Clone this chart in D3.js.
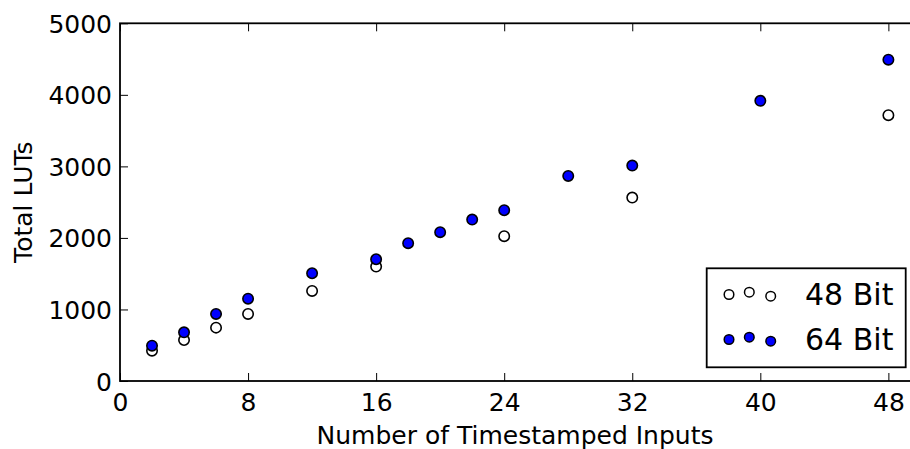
<!DOCTYPE html>
<html><head><meta charset="utf-8">
<script src="https://cdn.jsdelivr.net/npm/d3@7/dist/d3.min.js"></script>
<style>body{margin:0;background:#fff}svg{display:block;font-family:"DejaVu Sans",sans-serif}</style>
</head><body>
<svg id="c" width="910" height="449"></svg>
<script>
const x48 = [2, 4, 6, 8, 12, 16, 24, 32, 48];
const y48 = [424, 573, 746, 937, 1259, 1599, 2024, 2564, 3716];
const x64 = [2, 4, 6, 8, 12, 16, 18, 20, 22, 24, 28, 32, 40, 48];
const y64 = [494, 681, 937, 1151, 1506, 1702, 1926, 2080, 2256, 2387, 2867, 3011, 3916, 4492];
const xTicks = [0, 8, 16, 24, 32, 40, 48];
const yTicks = [0, 1000, 2000, 3000, 4000, 5000];
const legendLabels = ["48 Bit", "64 Bit"];

const svg = d3.select("#c");
const L = 120, R = 910, T = 23.3, B = 381;
const x = d3.scaleLinear().domain([0, 49.35]).range([L, R]);
const y = d3.scaleLinear().domain([0, 5000]).range([B, T]);

svg.append("rect").attr("x", L).attr("y", T).attr("width", R - L + 2).attr("height", B - T)
  .attr("fill", "none").attr("stroke", "#000").attr("stroke-width", 1.8);

const tl = 8, fs = 25;
const bx = d3.axisBottom(x).tickValues(xTicks).tickFormat(d3.format("d")).tickSizeInner(-tl).tickSizeOuter(0).tickPadding(12);
const gb = svg.append("g").attr("transform", `translate(0,${B})`).call(bx);
const tx = d3.axisTop(x).tickValues(xTicks).tickSizeInner(-tl).tickSizeOuter(0).tickFormat("");
const gt = svg.append("g").attr("transform", `translate(0,${T})`).call(tx);
const ly = d3.axisLeft(y).tickValues(yTicks).tickFormat(d3.format("d")).tickSizeInner(-tl).tickSizeOuter(0).tickPadding(8);
const gl = svg.append("g").attr("transform", `translate(${L},0)`).call(ly);
[gb, gt, gl].forEach(g => {
  g.select(".domain").remove();
  g.selectAll("line").attr("stroke", "#000").attr("stroke-width", 1);
  g.selectAll("text").attr("font-family", "DejaVu Sans").attr("font-size", fs).attr("fill", "#000");
});
gb.selectAll("text").attr("dy", "0.71em");
gl.selectAll("text").attr("dy", "0.36em");

svg.append("text").attr("x", (L + R) / 2).attr("y", 444).attr("text-anchor", "middle")
  .attr("font-size", fs).text("Number of Timestamped Inputs");
svg.append("text").attr("transform", `translate(32,${(T + B) / 2}) rotate(-90)`)
  .attr("text-anchor", "middle").attr("font-size", fs).text("Total LUTs");

const r = 5.2;
svg.append("g").selectAll("circle").data(x48.map((d, i) => [d, y48[i]])).join("circle")
  .attr("cx", d => x(d[0])).attr("cy", d => y(d[1])).attr("r", r)
  .attr("fill", "#fff").attr("stroke", "#000").attr("stroke-width", 1.6);
svg.append("g").selectAll("circle").data(x64.map((d, i) => [d, y64[i]])).join("circle")
  .attr("cx", d => x(d[0])).attr("cy", d => y(d[1])).attr("r", r)
  .attr("fill", "#0000ff").attr("stroke", "#000").attr("stroke-width", 1.6);

const lg = svg.append("g");
lg.append("rect").attr("x", 706.7).attr("y", 268.3).attr("width", 199).attr("height", 99)
  .attr("fill", "#fff").attr("stroke", "#000").attr("stroke-width", 1.8);
const offs = [[729, 0], [749.3, -2.3], [770.7, 1.7]];
const rows = [295, 340];
const fills = ["#fff", "#0000ff"];
legendLabels.forEach((lab, i) => {
  offs.forEach(o => {
    lg.append("circle").attr("cx", o[0]).attr("cy", rows[i] - 0.5 + o[1]).attr("r", 4.8)
      .attr("fill", fills[i]).attr("stroke", "#000").attr("stroke-width", 1.5);
  });
  lg.append("text").attr("x", 805).attr("y", rows[i] + 9.5).attr("font-size", 30).text(lab);
});
</script>
</body></html>
